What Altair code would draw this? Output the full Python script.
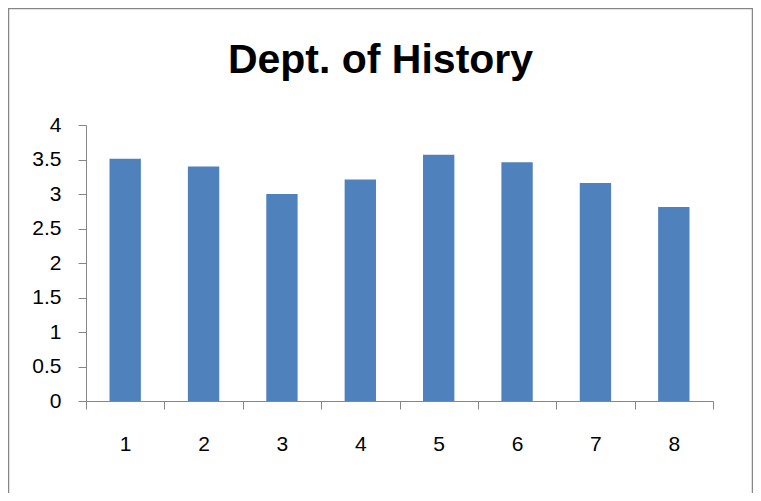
import altair as alt
import pandas as pd

categories = ["1", "2", "3", "4", "5", "6", "7", "8"]
values = [3.51, 3.40, 3.00, 3.21, 3.57, 3.46, 3.16, 2.81]
y_ticks = [0, 0.5, 1, 1.5, 2, 2.5, 3, 3.5, 4]
title_text = "Dept. of History"

df = pd.DataFrame({"cat": categories, "val": values})

AXIS_GRAY = "#868686"
FONT = "Liberation Sans"

bars = alt.Chart(df).mark_bar(
    color="#4F81BD", width=alt.RelativeBandSize(0.4)
).encode(
    x=alt.X(
        "cat:N",
        sort=categories,
        title=None,
        scale=alt.Scale(paddingInner=0, paddingOuter=0),
        axis=alt.Axis(
            labelAngle=0,
            tickBand="extent",
            tickSize=8,
            tickColor=AXIS_GRAY,
            domainColor=AXIS_GRAY,
            labelPadding=24,
            labelFontSize=21,
            labelFont=FONT,
            labelColor="black",
        ),
    ),
    y=alt.Y(
        "val:Q",
        title=None,
        scale=alt.Scale(domain=[0, 4], nice=False),
        axis=alt.Axis(
            values=y_ticks,
            format="~g",
            grid=False,
            tickSize=8,
            tickColor=AXIS_GRAY,
            domainColor=AXIS_GRAY,
            labelPadding=17,
            labelFontSize=21,
            labelFont=FONT,
            labelColor="black",
        ),
    ),
)

one_row = alt.Data(values=[{"t": title_text}])

frame = alt.Chart(one_row).mark_rect(
    fill=None, stroke=AXIS_GRAY, strokeWidth=1.5
).encode(
    x=alt.value(-77.5),
    x2=alt.value(666.5),
    y=alt.value(-116.5),
    y2=alt.value(420),
)

title = alt.Chart(one_row).mark_text(
    font=FONT,
    fontSize=41,
    fontWeight="bold",
    color="black",
    align="center",
    baseline="alphabetic",
).encode(
    text="t:N",
    x=alt.value(294.5),
    y=alt.value(-52),
)

chart = alt.layer(bars, frame, title).properties(
    width=627,
    height=276,
    padding={"left": 78, "top": 117, "right": 40, "bottom": 92},
    autosize=alt.AutoSizeParams(type="none"),
).configure_view(stroke=None)

chart.save("out.html", embed_options={"renderer": "svg", "actions": False})
